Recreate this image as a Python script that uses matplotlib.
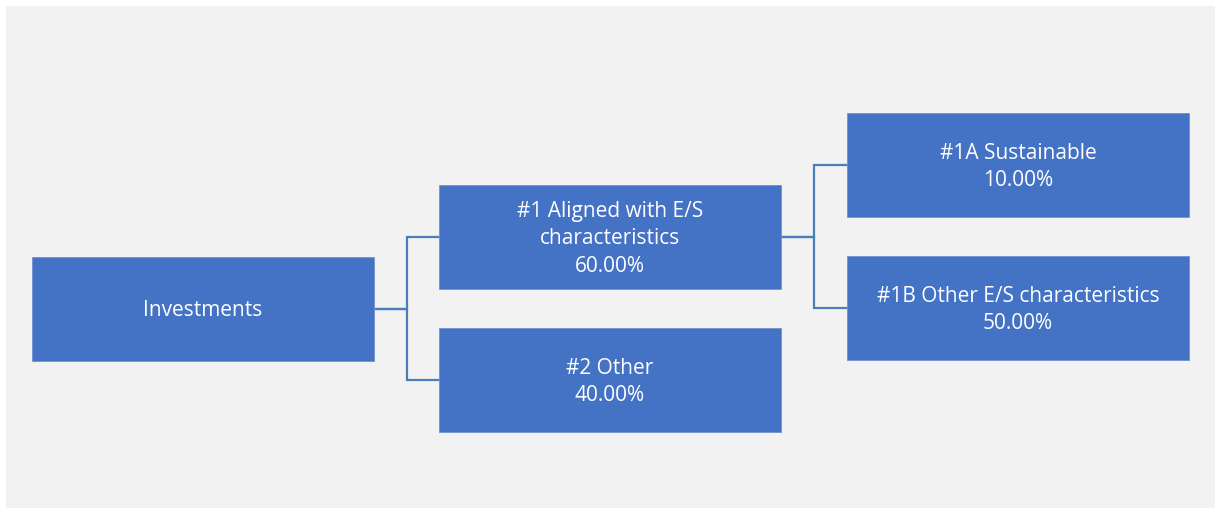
import matplotlib
matplotlib.use("Agg")
import matplotlib.pyplot as plt
from matplotlib.patches import Rectangle

# tree of investments, shares in percent
node_names = ["Investments", "#1 Aligned with E/S\ncharacteristics", "#2 Other",
              "#1A Sustainable", "#1B Other E/S characteristics"]
node_shares = [None, 60.00, 40.00, 10.00, 50.00]
node_parent = [None, 0, 0, 1, 1]

# layout (pixels) - column and row of each node
col_x = [32, 439, 847]
node_col = [0, 1, 1, 2, 2]
node_top = [257, 185, 328, 113, 256]
box_w, box_h = 342, 104

BOX = "#4472c4"
LINE = "#4a7ebb"
BG = "#f2f2f2"

plt.rcParams['font.family'] = ['Open Sans', 'DejaVu Sans']

fig = plt.figure(figsize=(12.21, 5.14), dpi=100)
fig.patch.set_facecolor("white")
ax = fig.add_axes([0, 0, 1, 1])
ax.set_xlim(0, 1221)
ax.set_ylim(514, 0)
ax.axis("off")

ax.add_patch(Rectangle((6, 6), 1209, 502, facecolor=BG, edgecolor="none", zorder=0))

# connectors (elbow lines from parent to children)
for i, p in enumerate(node_parent):
    if p is None:
        continue
    px = col_x[node_col[p]] + box_w
    py = node_top[p] + box_h / 2
    cx = col_x[node_col[i]]
    cy = node_top[i] + box_h / 2
    mx = (px + cx) / 2
    ax.plot([px, mx, mx, cx], [py, py, cy, cy], color=LINE, lw=1.6,
            solid_joinstyle="miter", zorder=1)

for i, name in enumerate(node_names):
    x = col_x[node_col[i]]
    y = node_top[i]
    ax.add_patch(Rectangle((x, y), box_w, box_h, facecolor=BOX,
                           edgecolor="#6f93d0", lw=0.6, zorder=2))
    txt = name if node_shares[i] is None else "{}\n{:.2f}%".format(name, node_shares[i])
    ax.text(x + box_w / 2, y + box_h / 2 + 2, txt, color="white", fontsize=15,
            ha="center", va="center", linespacing=1.38, zorder=3)

fig.savefig("out.png", dpi=100, facecolor=fig.get_facecolor())
